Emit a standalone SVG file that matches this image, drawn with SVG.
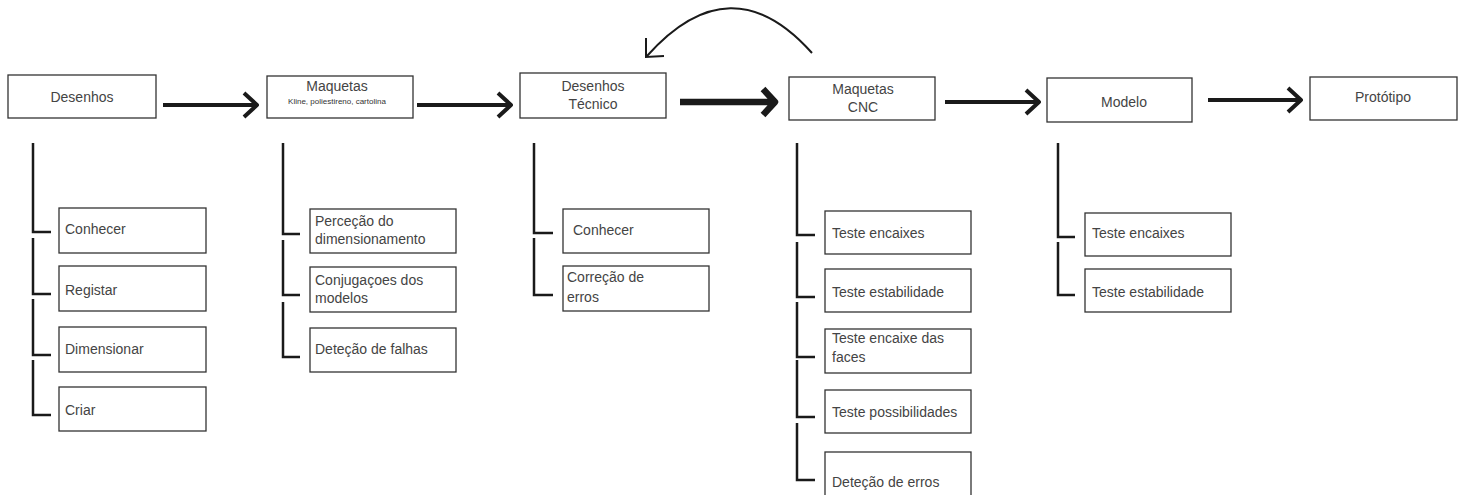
<svg xmlns="http://www.w3.org/2000/svg" width="1466" height="495" viewBox="0 0 1466 495">
<style>
.box{fill:#fff;stroke:#333;stroke-width:1.3}
.t{font-family:"Liberation Sans",Arial,sans-serif;font-size:14px;fill:#444}
.c{text-anchor:middle}
.s{font-size:8px;fill:#333}
.ar{fill:none;stroke:#1a1a1a;stroke-width:4;stroke-linejoin:round;stroke-linecap:butt}
.ar2{fill:none;stroke:#1a1a1a;stroke-width:6.5;stroke-linejoin:round}
.br{fill:none;stroke:#1a1a1a;stroke-width:2.5}
.cv{fill:none;stroke:#1a1a1a;stroke-width:2}
</style>
<rect width="1466" height="495" fill="#fff"/>
<g id="connectors">
<path class="ar" d="M163,105 H256 M244,93 L257,105 L244,117"/>
<path class="ar" d="M417,105 H510 M498,93 L511,105 L498,117"/>
<path class="ar2" d="M680,102 H772 M763,89 L775,102 L763,115"/>
<path class="ar" d="M945,102 H1038 M1026,90 L1039,102 L1026,114"/>
<path class="ar" d="M1208,100 H1300 M1288,88 L1301,100 L1288,112"/>
<path class="cv" d="M812,53 Q731,-38 647,56"/>
<path class="cv" d="M646,38 L646,57 L664,56"/>
<path class="br" d="M33,143 V232 H51 M33,238 V294 H51 M33,299 V355 H51 M33,360 V415 H51"/>
<path class="br" d="M283,143 V234 H300 M283,240 V295 H300 M283,302 V357 H300"/>
<path class="br" d="M534,143 V233 H553 M534,238 V295 H553"/>
<path class="br" d="M797,143 V235 H815 M797,242 V297 H815 M797,302 V357 H815 M797,360 V417 H815 M797,423 V480 H815"/>
<path class="br" d="M1058,143 V237 H1075 M1058,242 V295 H1075"/>
</g>
<g id="n-desenhos"><rect class="box" x="8" y="75" width="148" height="43"/><text class="t c" x="82" y="102">Desenhos</text></g>
<g id="n-maquetas"><rect class="box" x="267" y="76" width="146" height="42"/><text class="t c" x="337" y="91">Maquetas</text><text class="t c s" x="337" y="104">Kline, poliestireno, cartolina</text></g>
<g id="n-desenhos-tecnico"><rect class="box" x="520" y="73" width="146" height="45"/><text class="t c" x="593" y="91">Desenhos</text><text class="t c" x="593" y="109">Técnico</text></g>
<g id="n-maquetas-cnc"><rect class="box" x="789" y="77" width="146" height="43"/><text class="t c" x="863" y="94">Maquetas</text><text class="t c" x="863" y="112">CNC</text></g>
<g id="n-modelo"><rect class="box" x="1047" y="78" width="145" height="44"/><text class="t c" x="1124" y="107">Modelo</text></g>
<g id="n-prototipo"><rect class="box" x="1310" y="77" width="147" height="43"/><text class="t c" x="1383" y="102">Protótipo</text></g>

<g id="d-conhecer"><rect class="box" x="59" y="208" width="147" height="45"/><text class="t" x="65" y="234">Conhecer</text></g>
<g id="d-registar"><rect class="box" x="59" y="266" width="147" height="45"/><text class="t" x="65" y="295">Registar</text></g>
<g id="d-dimensionar"><rect class="box" x="59" y="327" width="147" height="45"/><text class="t" x="65" y="354">Dimensionar</text></g>
<g id="d-criar"><rect class="box" x="59" y="387" width="147" height="44"/><text class="t" x="65" y="415">Criar</text></g>

<g id="m-percecao"><rect class="box" x="310" y="209" width="146" height="44"/><text class="t" x="315" y="226">Perceção do</text><text class="t" x="315" y="244">dimensionamento</text></g>
<g id="m-conjugacoes"><rect class="box" x="310" y="267" width="146" height="45"/><text class="t" x="315" y="285">Conjugaçoes dos</text><text class="t" x="315" y="303">modelos</text></g>
<g id="m-detecao"><rect class="box" x="310" y="328" width="146" height="44"/><text class="t" x="315" y="354">Deteção de falhas</text></g>

<g id="t-conhecer"><rect class="box" x="563" y="209" width="146" height="44"/><text class="t" x="573" y="235">Conhecer</text></g>
<g id="t-correcao"><rect class="box" x="563" y="266" width="146" height="45"/><text class="t" x="567" y="282">Correção de</text><text class="t" x="567" y="302">erros</text></g>

<g id="c-encaixes"><rect class="box" x="825" y="211" width="146" height="43"/><text class="t" x="832" y="238">Teste encaixes</text></g>
<g id="c-estabilidade"><rect class="box" x="825" y="269" width="146" height="43"/><text class="t" x="832" y="297">Teste estabilidade</text></g>
<g id="c-faces"><rect class="box" x="825" y="329" width="146" height="44"/><text class="t" x="832" y="343">Teste encaixe das</text><text class="t" x="832" y="362">faces</text></g>
<g id="c-possibilidades"><rect class="box" x="825" y="390" width="146" height="43"/><text class="t" x="832" y="417">Teste possibilidades</text></g>
<g id="c-erros"><rect class="box" x="825" y="452" width="146" height="50"/><text class="t" x="832" y="487">Deteção de erros</text></g>

<g id="mo-encaixes"><rect class="box" x="1085" y="213" width="146" height="43"/><text class="t" x="1092" y="238">Teste encaixes</text></g>
<g id="mo-estabilidade"><rect class="box" x="1085" y="269" width="146" height="43"/><text class="t" x="1092" y="297">Teste estabilidade</text></g>
</svg>
